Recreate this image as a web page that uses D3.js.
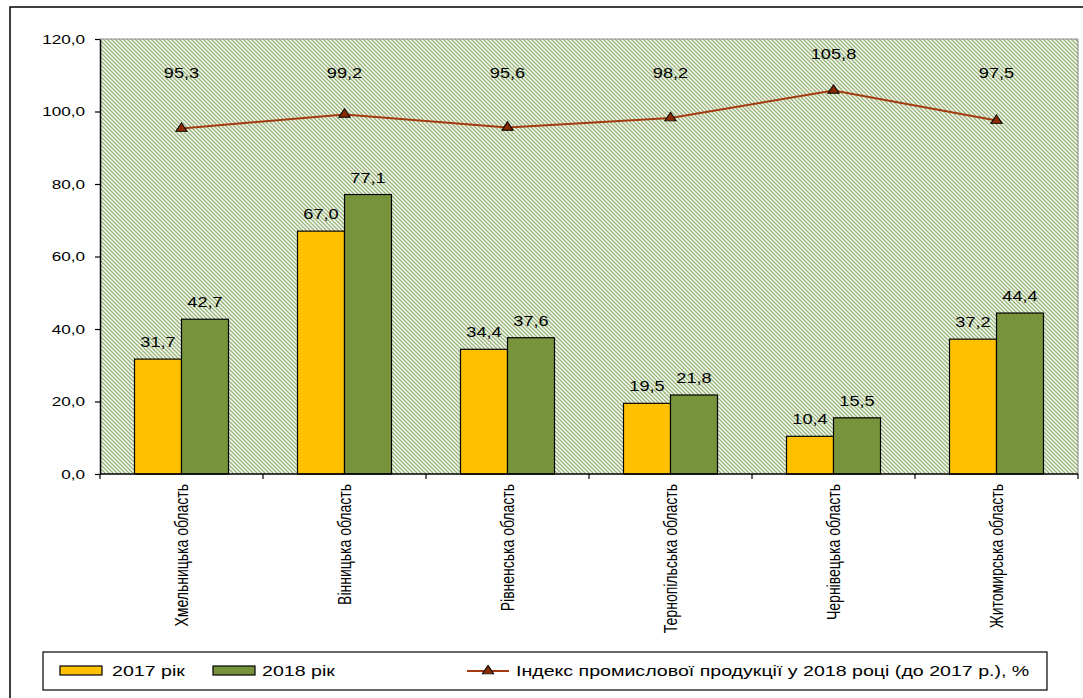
<!DOCTYPE html>
<html><head><meta charset="utf-8">
<script src="https://cdn.jsdelivr.net/npm/d3@7"></script>
<style>html,body{margin:0;padding:0;background:#fff}svg{display:block;font-family:"Liberation Sans",Arial,sans-serif}</style>
</head><body>
<svg id="c" width="1083" height="698"></svg>
<script>
const categories = ["Хмельницька область","Вінницька область","Рівненська область","Тернопільська область","Чернівецька область","Житомирська область"];
const seriesNames = ["2017 рік","2018 рік"];
const values2017 = [31.7, 67.0, 34.4, 19.5, 10.4, 37.2];
const values2018 = [42.7, 77.1, 37.6, 21.8, 15.5, 44.4];
const indexValues = [95.3, 99.2, 95.6, 98.2, 105.8, 97.5];
const indexName = "Індекс промислової продукції у 2018 році (до 2017 р.), %";
const yTicks = [0, 20, 40, 60, 80, 100, 120];

const SX = 1.37; // horizontal stretch of text as in reference
const svg = d3.select("#c");
const L = 100, R = 1078, T = 39, B = 474;
const fmt = v => d3.format(".1f")(v).replace(".", ",");

// outer frame
svg.append("path").attr("d","M10,698 V7 H1083").attr("fill","none").attr("stroke","#000").attr("stroke-width",1.5);

// pattern
const defs = svg.append("defs");
const pat = defs.append("pattern").attr("id","hatch").attr("patternUnits","userSpaceOnUse")
  .attr("width",4).attr("height",4);
pat.append("rect").attr("width",4).attr("height",4).attr("fill","#fff");
pat.append("path").attr("d","M-1,-1 L5,5 M-1,3 L1,5 M3,-1 L5,1")
  .attr("stroke","#9ab67a").attr("stroke-width",1.5);

const y = d3.scaleLinear().domain([0,120]).range([B,T]);
const x0 = d3.scaleBand().domain(categories).range([L,R]).paddingInner(69/163).paddingOuter(69/326);
const x1 = d3.scaleBand().domain(seriesNames).range([0,x0.bandwidth()]);

// plot area
svg.append("rect").attr("x",L).attr("y",T).attr("width",R-L).attr("height",B-T).attr("fill","url(#hatch)");
svg.append("path").attr("d",`M${L},${T} H${R} V${B}`).attr("fill","none").attr("stroke","#8a8a8a").attr("stroke-width",1);

// y axis
const yAxis = svg.append("g").attr("transform",`translate(${L},0)`)
  .call(d3.axisLeft(y).tickValues(yTicks).tickSize(5).tickSizeOuter(0).tickFormat(fmt));
yAxis.select(".domain").attr("stroke","#000").attr("stroke-width",1.5);
yAxis.selectAll(".tick line").attr("stroke","#000").attr("stroke-width",1.2);
yAxis.selectAll(".tick text").attr("x",0).attr("dy","0.35em")
  .attr("transform",`translate(-15,0) scale(${SX},1)`).attr("font-size",12.5).attr("fill","#000")
  .attr("font-family","Liberation Sans, Arial, sans-serif");

// bars
const colors = {"2017 рік":"#FFC000","2018 рік":"#77933C"};
const data = categories.map((c,i)=>({cat:c, vals:[{s:seriesNames[0],v:values2017[i]},{s:seriesNames[1],v:values2018[i]}]}));
const g = svg.selectAll(".grp").data(data).join("g").attr("transform",d=>`translate(${x0(d.cat)},0)`);
g.selectAll("rect").data(d=>d.vals).join("rect")
  .attr("x",d=>x1(d.s)).attr("width",x1.bandwidth())
  .attr("y",d=>y(d.v)).attr("height",d=>B-y(d.v))
  .attr("fill",d=>colors[d.s]).attr("stroke","#000").attr("stroke-width",1.2);
g.selectAll("text").data(d=>d.vals).join("text")
  .attr("transform",d=>`translate(${x1(d.s)+x1.bandwidth()/2},${y(d.v)-12}) scale(1.3,1)`)
  .attr("text-anchor","middle").attr("font-size",14).text(d=>fmt(d.v));

// x axis line and ticks
svg.append("line").attr("x1",L).attr("x2",R).attr("y1",B).attr("y2",B).attr("stroke","#000").attr("stroke-width",1.5);
const bounds = categories.map(c=>x0(c)-x0.step()*x0.paddingInner()/2).concat([R]);
svg.selectAll(".xt").data(bounds).join("line").attr("x1",d=>d).attr("x2",d=>d)
  .attr("y1",B).attr("y2",B+5).attr("stroke","#000").attr("stroke-width",1.2);

// category labels
svg.selectAll(".cl").data(categories).join("text")
  .attr("transform",d=>`translate(${x0(d)+x0.bandwidth()/2+6.8},484) scale(${SX},1) rotate(-90)`)
  .attr("text-anchor","end").attr("font-size",14).text(d=>d);

// index line
const cx = c => x0(c)+x0.bandwidth()/2;
const line = d3.line().x((d,i)=>cx(categories[i])).y(d=>y(d));
svg.append("path").datum(indexValues).attr("d",line).attr("fill","none").attr("stroke","#A33A0F").attr("stroke-width",2);
const tri = d3.symbol().type(d3.symbolTriangle).size(42);
svg.selectAll(".mk").data(indexValues).join("path")
  .attr("d",tri).attr("transform",(d,i)=>`translate(${cx(categories[i])},${y(d)}) scale(1.15,1)`)
  .attr("fill","#8B2A00").attr("stroke","#000").attr("stroke-width",0.9);
svg.selectAll(".il").data(indexValues).join("text")
  .attr("transform",(d,i)=>`translate(${cx(categories[i])},${y(Math.max(d+10.3,110.8))+6}) scale(1.3,1)`)
  .attr("text-anchor","middle").attr("font-size",14).text(d=>fmt(d));

// legend
const lg = svg.append("g");
lg.append("rect").attr("x",43).attr("y",652).attr("width",1004).attr("height",38).attr("fill","#fff").attr("stroke","#000").attr("stroke-width",1.2);
const sw = [{s:seriesNames[0],x:60,tx:112},{s:seriesNames[1],x:213,tx:262}];
sw.forEach(o=>{
  lg.append("rect").attr("x",o.x).attr("y",666).attr("width",42).attr("height",9).attr("fill",colors[o.s]).attr("stroke","#000").attr("stroke-width",1.2);
  lg.append("text").attr("transform",`translate(${o.tx},676) scale(1.4,1)`).attr("font-size",14).text(o.s);
});
lg.append("line").attr("x1",467).attr("x2",509).attr("y1",671).attr("y2",671).attr("stroke","#A33A0F").attr("stroke-width",2);
lg.append("path").attr("d",tri).attr("transform","translate(488,671) scale(1.15,1)").attr("fill","#8B2A00").attr("stroke","#000").attr("stroke-width",0.9);
lg.append("text").attr("transform",`translate(516,676) scale(1.4,1)`).attr("font-size",14).text(indexName);
</script>
</body></html>
